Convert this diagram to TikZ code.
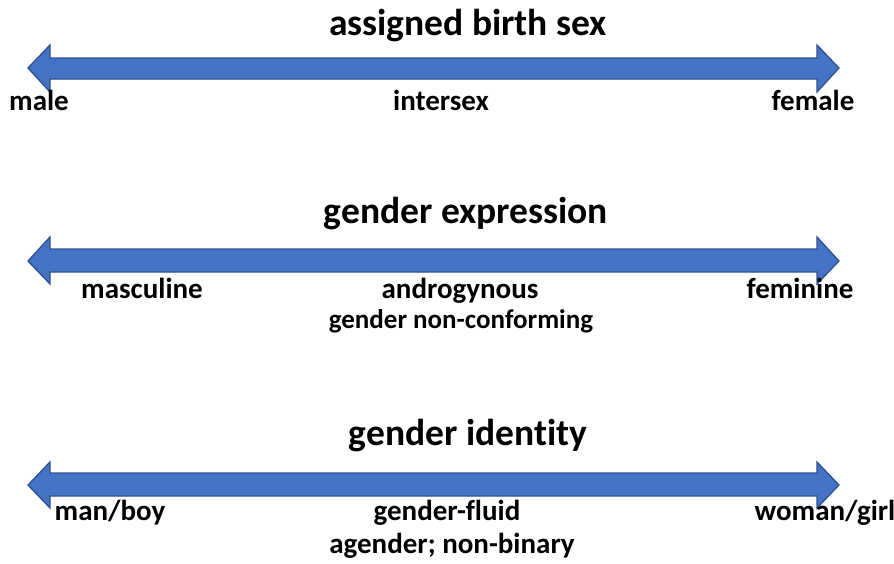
\documentclass[tikz,border=0pt]{standalone}
\usepackage{fontspec}
\setmainfont{Carlito}[Ligatures=NoCommon]
\begin{document}
\begin{tikzpicture}[x=1pt,y=-1pt,
  ttl/.style={font=\bfseries\fontsize{37.5}{40}\selectfont,anchor=base},
  lbl/.style={font=\bfseries\fontsize{29}{31}\selectfont,anchor=base},
  barrow/.style={fill=arrowfill,draw=arrowline,line width=1.3pt,line join=miter}]
\definecolor{arrowfill}{HTML}{4472C4}
\definecolor{arrowline}{HTML}{2F528F}
\useasboundingbox (0,0) rectangle (894,563);
% arrow 1
\draw[barrow] (28,68) -- (50,45) -- (50,58) -- (817,58) -- (817,45) -- (839,68) -- (817,92) -- (817,79) -- (50,79) -- (50,92) -- cycle;
% arrow 2
\draw[barrow] (28,261) -- (50,237) -- (50,249) -- (817,249) -- (817,237) -- (839,261) -- (817,284) -- (817,272) -- (50,272) -- (50,284) -- cycle;
% arrow 3
\draw[barrow] (28,485) -- (50,462) -- (50,473) -- (817,473) -- (817,462) -- (839,485) -- (817,508) -- (817,496) -- (50,496) -- (50,508) -- cycle;
\node[ttl] (t1) at (468,35) {assigned birth sex};
\node[lbl] (a1) at (39,110) {male};
\node[lbl] (b1) at (441,110) {intersex};
\node[lbl] (c1) at (813,110) {female};
\node[ttl] (t2) at (466,223) {gender expression};
\node[lbl] (a2) at (142,298) {masculine};
\node[lbl] (b2) at (460,298) {androgynous};
\node[lbl,font=\bfseries\fontsize{27}{29}\selectfont] (b2b) at (461,328) {gender non-conforming};
\node[lbl] (c2) at (800,298) {feminine};
\node[ttl] (t3) at (468,445) {gender identity};
\node[lbl] (a3) at (110,520) {man/boy};
\node[lbl] (b3) at (447,520) {gender-fluid};
\node[lbl] (b3b) at (452,553) {agender; non-binary};
\node[lbl] (c3) at (825,520) {woman/girl};
\end{tikzpicture}
\end{document}
